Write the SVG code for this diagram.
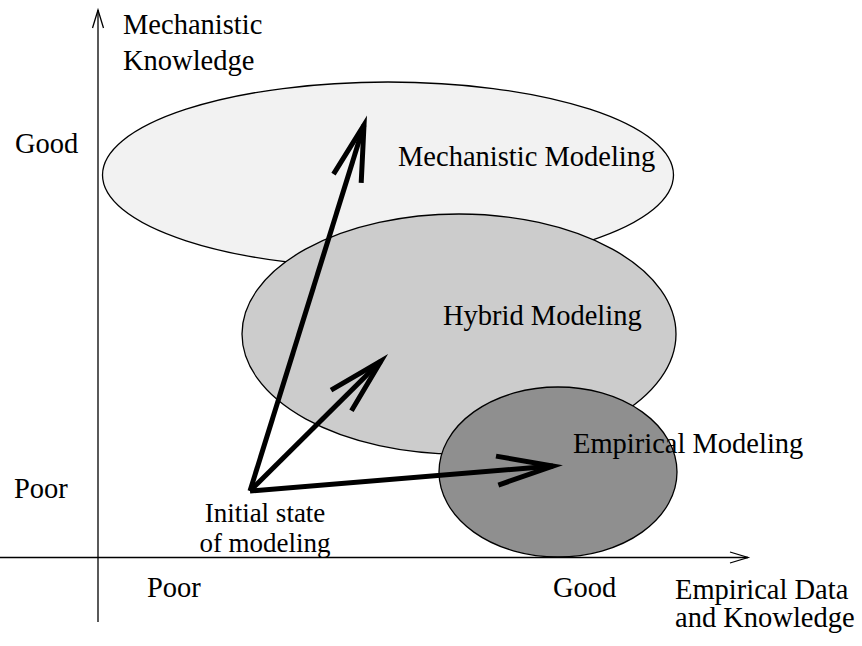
<svg xmlns="http://www.w3.org/2000/svg" width="862" height="646" viewBox="0 0 862 646" font-family="'Liberation Serif', 'DejaVu Serif', serif">
  <style>
    text { font-family: 'Liberation Serif', 'DejaVu Serif', serif; font-size: 28.5px; fill: #000; }
    .tight { font-size: 27px; }
    .region { stroke: #000; stroke-width: 1.3; }
    .axis { stroke: #000; stroke-width: 1.3; fill: none; }
    .move { stroke: #000; stroke-width: 5; fill: none; }
  </style>
  <defs>
    <marker id="axisHead" markerUnits="userSpaceOnUse" markerWidth="40" markerHeight="40" refX="0" refY="0" orient="auto" overflow="visible" viewBox="-20 -20 40 40">
      <path d="M-18,-5.5 L0,0 L-18,5.5" fill="none" stroke="#000" stroke-width="1.3"/>
    </marker>
    <marker id="moveHead" markerUnits="userSpaceOnUse" markerWidth="140" markerHeight="140" refX="0" refY="0" orient="auto" overflow="visible" viewBox="-70 -70 140 140">
      <path d="M-56,-14.5 L0,0 L-56,14.5" fill="none" stroke="#000" stroke-width="5" stroke-miterlimit="10"/>
    </marker>
  </defs>

  <!-- modeling regions -->
  <g id="mechanistic-modeling">
    <ellipse class="region" cx="388" cy="175" rx="285.5" ry="93" fill="#f2f2f2"/>
  </g>
  <g id="hybrid-modeling">
    <ellipse class="region" cx="459" cy="334" rx="217" ry="120" fill="#cccccc"/>
  </g>
  <g id="empirical-modeling">
    <ellipse class="region" cx="558" cy="472" rx="119" ry="85" fill="#8f8f8f"/>
  </g>

  <!-- axes -->
  <g id="axes">
    <line class="axis" x1="98" y1="622" x2="98" y2="10" marker-end="url(#axisHead)"/>
    <line class="axis" x1="0" y1="557.5" x2="748" y2="557.5" marker-end="url(#axisHead)"/>
  </g>

  <!-- connectors from the initial state -->
  <g id="connectors">
    <line class="move" x1="250" y1="491" x2="364" y2="125" marker-end="url(#moveHead)"/>
    <line class="move" x1="250" y1="491" x2="381" y2="361" marker-end="url(#moveHead)"/>
    <line class="move" x1="250" y1="491" x2="553" y2="466" marker-end="url(#moveHead)"/>
  </g>

  <!-- labels -->
  <g id="region-labels">
    <text x="398" y="166">Mechanistic Modeling</text>
    <text x="443" y="325">Hybrid Modeling</text>
    <text x="573" y="453">Empirical Modeling</text>
  </g>
  <g id="initial-state">
    <text class="tight" x="265" y="522" text-anchor="middle">Initial state</text>
    <text class="tight" x="265" y="552" text-anchor="middle">of modeling</text>
  </g>
  <g id="axis-labels">
    <text x="123" y="34">Mechanistic</text>
    <text x="123" y="70">Knowledge</text>
    <text x="15" y="153">Good</text>
    <text x="14" y="498">Poor</text>
    <text x="147" y="597">Poor</text>
    <text x="553" y="597">Good</text>
    <text x="675" y="599">Empirical Data</text>
    <text x="675" y="627">and Knowledge</text>
  </g>
</svg>
